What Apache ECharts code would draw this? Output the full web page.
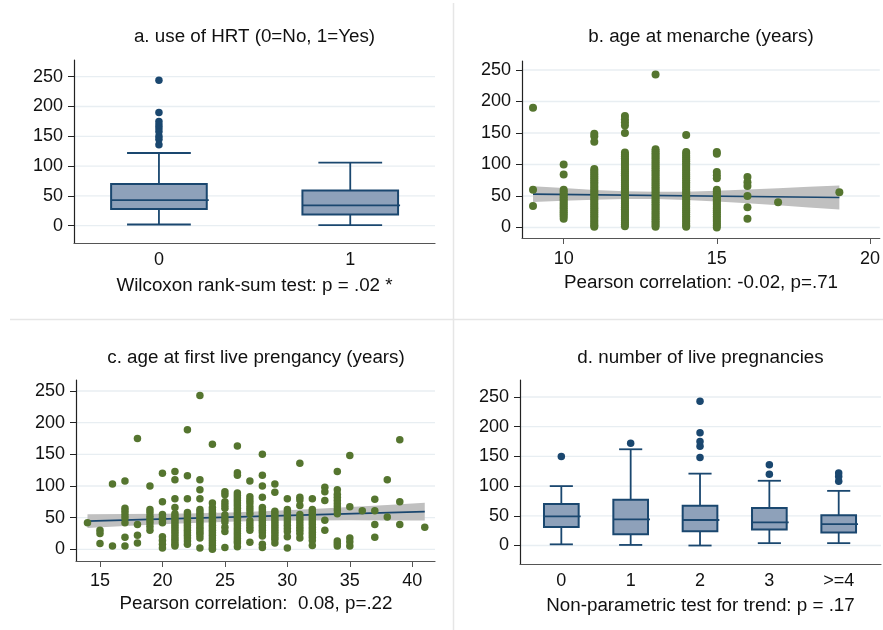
<!DOCTYPE html>
<html><head><meta charset="utf-8">
<script src="https://cdn.jsdelivr.net/npm/echarts@6/dist/echarts.min.js"></script>
<style>html,body{margin:0;padding:0;background:#fff}#c{width:883px;height:630px}</style>
</head><body><div id="c"></div>
<script>
// ---------- DATA ----------
// a. use of HRT
const hrtCats = ['0', '1'];
const hrtBox = [[2, 28, 43, 70, 122], [1, 19, 34, 59, 106]]; // [lowWhisker, Q1, median, Q3, highWhisker]
const hrtOutliers = [[136, 145, 150, 158, 164, 169, 175, 190, 244], []];
// b. age at menarche
const menX = [9, 10, 11, 12, 13, 14, 15, 16, 17, 19];
const menY = [
  [190, 60, 34],
  [100, 84, 60, 57, 54, 51, 48, 45, 42, 39, 36, 33, 30, 27, 24, 21, 18, 14],
  [149, 145, 136, 93, 90, 87, 84, 81, 78, 75, 72, 69, 66, 63, 60, 57, 54, 51, 48, 45, 42, 39, 36, 33, 30, 27, 24, 21, 18, 15, 12, 9, 6, 3, 1],
  [177, 172, 167, 162, 150, 119, 116, 113, 110, 107, 104, 101, 98, 95, 92, 89, 86, 83, 80, 77, 74, 71, 68, 65, 62, 59, 56, 53, 50, 47, 44, 41, 38, 35, 32, 29, 26, 23, 20, 17, 14, 11, 8, 5, 2],
  [243, 124, 121, 118, 115, 112, 109, 106, 103, 100, 97, 94, 91, 88, 85, 82, 79, 76, 73, 70, 67, 64, 61, 58, 55, 52, 49, 46, 43, 40, 37, 34, 31, 28, 25, 22, 19, 16, 13, 10, 7, 4, 1],
  [147, 120, 117, 114, 111, 108, 105, 102, 99, 96, 93, 90, 87, 84, 81, 78, 75, 72, 69, 66, 63, 60, 57, 54, 51, 48, 45, 42, 39, 36, 33, 30, 27, 24, 21, 18, 15, 12, 9, 6, 3, 1],
  [120, 117, 88, 83, 78, 60, 57, 54, 51, 48, 45, 42, 39, 36, 33, 30, 27, 24, 21, 18, 15, 12, 9, 6, 3, 0],
  [80, 72, 66, 50, 32, 14],
  [40],
  [56]
];
const menFitX = [9, 19];
const menFitY = [53, 47.7];
const menBandX = [9, 10, 11, 12, 13, 14, 15, 16, 17, 18, 19];
const menBandLo = [40.5, 42.5, 44, 45.2, 45.1, 43.7, 41.2, 38.3, 35.2, 31.9, 28.7];
const menBandHi = [65.5, 62.5, 59.7, 57.6, 56.7, 56.9, 58.4, 60.3, 62.4, 64.5, 66.7];
// c. age at first live pregnancy
const pregAgeX = [14, 15, 16, 17, 18, 19, 20, 21, 22, 23, 24, 25, 26, 27, 28, 29, 30, 31, 32, 33, 34, 35, 36, 37, 38, 39, 41];
const pregAgeY = [
  [42],
  [30, 25, 9],
  [103, 5],
  [108, 65, 60, 55, 50, 42, 19, 5],
  [175, 39, 22, 10],
  [100, 63, 58, 52, 47, 42, 36, 30],
  [120, 75, 55, 50, 45, 42, 20, 14, 8, 2],
  [123, 110, 80, 66, 56, 52, 48, 44, 40, 36, 32, 28, 24, 20, 16, 12, 8, 5],
  [189, 116, 80, 58, 54, 50, 46, 42, 38, 34, 30, 26, 22, 18, 13, 8],
  [243, 110, 94, 80, 63, 59, 55, 51, 47, 43, 39, 35, 31, 27, 23, 18, 2],
  [166, 73, 66, 62, 58, 54, 50, 46, 42, 38, 34, 30, 26, 22, 18, 14, 10, 6, 2, 0],
  [91, 86, 75, 70, 65, 54, 48, 43, 35, 28, 3],
  [163, 121, 117, 89, 85, 81, 77, 73, 69, 65, 61, 57, 53, 49, 45, 41, 37, 33, 29, 25, 21, 17, 13, 10, 4],
  [108, 83, 78, 73, 67, 62, 56, 45, 40, 35, 30, 11],
  [150, 117, 100, 82, 66, 62, 58, 54, 50, 46, 42, 38, 34, 30, 26, 21, 8, 3],
  [103, 90, 60, 56, 52, 48, 44, 40, 36, 32, 28, 24, 20, 16, 10],
  [80, 63, 58, 53, 48, 43, 38, 33, 28, 20, 2],
  [136, 82, 78, 69, 55, 50, 45, 40, 35, 30, 25, 18],
  [80, 63, 59, 55, 51, 47, 43, 39, 35, 31, 27, 23, 19, 14, 6],
  [98, 91, 77, 46, 30],
  [123, 94, 87, 82, 77, 72, 67, 62, 56, 13, 9, 5],
  [148, 67, 18, 12, 5],
  [61],
  [79, 61, 39, 19],
  [110, 51],
  [173, 75, 39],
  [35]
];
const pregFitX = [14, 41];
const pregFitY = [44.5, 59.5];
const pregBandX = [14, 17, 20, 23, 26, 29, 32, 35, 38, 41];
const pregBandLo = [33.5, 36.7, 39.6, 42, 43.8, 44.9, 45.5, 45.7, 45.6, 45.5];
const pregBandHi = [55.5, 55.7, 56, 57, 58.6, 60.7, 63.5, 66.7, 70, 73.5];
// d. number of live pregnancies
const nPregCats = ['0', '1', '2', '3', '>=4'];
const nPregBox = [[2, 31, 49, 70, 100], [1, 19, 44, 77, 162], [0, 24, 43, 67, 121], [4, 27, 39, 63, 109], [4, 22, 36, 51, 92]];
const nPregOutliers = [[150], [172], [148, 167, 175, 190, 243], [120, 136], [108, 116, 122]];
// axis ticks
const yTicks = [0, 50, 100, 150, 200, 250];
const menTicks = [10, 15, 20];
const pregAgeTicks = [15, 20, 25, 30, 35, 40];

// ---------- STYLE ----------
const FONT = "'Liberation Sans', Arial, sans-serif";
const NAVY = '#1a476f', BOXFILL = '#8ea1ba', GREEN = '#55752f', BAND = '#c0c0c0', GRIDC = '#e8eef2';

const chart = echarts.init(document.getElementById('c'), null, {renderer: 'canvas'});

function boxRender(params, api) {
  const x = api.value(0);
  const mn = api.coord([x, api.value(1)]), q1 = api.coord([x, api.value(2)]),
        md = api.coord([x, api.value(3)]), q3 = api.coord([x, api.value(4)]),
        mx = api.coord([x, api.value(5)]);
  const cx = md[0];
  const bw = api.size([0.5, 0])[0];
  const cw = bw * 2 / 3;
  const ls = {stroke: NAVY, lineWidth: 1.8, fill: null};
  return {type: 'group', children: [
    {type: 'line', shape: {x1: cx, y1: q3[1], x2: cx, y2: mx[1]}, style: ls},
    {type: 'line', shape: {x1: cx - cw / 2, y1: mx[1], x2: cx + cw / 2, y2: mx[1]}, style: ls},
    {type: 'line', shape: {x1: cx, y1: q1[1], x2: cx, y2: mn[1]}, style: ls},
    {type: 'line', shape: {x1: cx - cw / 2, y1: mn[1], x2: cx + cw / 2, y2: mn[1]}, style: ls},
    {type: 'rect', shape: {x: cx - bw / 2, y: q3[1], width: bw, height: q1[1] - q3[1]}, style: {fill: BOXFILL, stroke: NAVY, lineWidth: 2}},
    {type: 'line', shape: {x1: cx - bw / 2, y1: md[1], x2: cx + bw / 2 + 2, y2: md[1]}, style: ls}
  ]};
}
function gridRender(params, api) {
  const cs = params.coordSys;
  const y = api.coord([api.value(0), api.value(1)])[1];
  return {type: 'line', shape: {x1: cs.x, y1: y, x2: cs.x + cs.width, y2: y}, style: {stroke: GRIDC, lineWidth: 1.3}};
}
function bandRenderer(bx, lo, hi) {
  return function (params, api) {
    const pts = [];
    for (let i = 0; i < bx.length; i++) pts.push(api.coord([bx[i], hi[i]]));
    for (let i = bx.length - 1; i >= 0; i--) pts.push(api.coord([bx[i], lo[i]]));
    return {type: 'polygon', shape: {points: pts}, style: {fill: BAND}};
  };
}
function flatten(xs, ys) {
  const out = [];
  xs.forEach((x, i) => ys[i].forEach(v => out.push([x, v])));
  return out;
}

const grids = [
  {left: 74, top: 60, width: 361, height: 183},
  {left: 522, top: 61, width: 358, height: 177},
  {left: 76, top: 380, width: 359, height: 181},
  {left: 520, top: 380, width: 361, height: 184}
];
const xRanges = [[-0.444, 1.443], [8.64, 20.32], [13.08, 41.82], [-0.596, 4.61]];
const yRanges = [[-29, 278], [-16.7, 264.3], [-18.5, 267.4], [-31.1, 278.6]];
const xLabelMargin = [8, 12, 11, 8];
const xTickVals = [[0, 1], menTicks, pregAgeTicks, [0, 1, 2, 3, 4]];
const xFormat = [v => hrtCats[Math.round(v)], v => String(v), v => String(v), v => nPregCats[Math.round(v)]];
const showXTick = [false, true, true, false];

const xAxis = grids.map((g, i) => ({
  type: 'value', gridIndex: i, min: xRanges[i][0], max: xRanges[i][1],
  axisLine: {show: true, onZero: false, lineStyle: {color: '#555', width: 1.2}},
  axisTick: {show: showXTick[i], customValues: xTickVals[i], length: 6, lineStyle: {color: '#555'}},
  axisLabel: {customValues: xTickVals[i], formatter: xFormat[i], margin: xLabelMargin[i], fontFamily: FONT, fontSize: 18, color: '#111'},
  splitLine: {show: false}
}));
const yAxis = grids.map((g, i) => ({
  type: 'value', gridIndex: i, min: yRanges[i][0], max: yRanges[i][1],
  axisLine: {show: true, onZero: false, lineStyle: {color: '#222', width: 1.2}},
  axisTick: {show: true, customValues: yTicks, length: 6, lineStyle: {color: '#222'}},
  axisLabel: {customValues: yTicks, margin: 11, fontFamily: FONT, fontSize: 18, color: '#111'},
  splitLine: {show: false}
}));

const series = [];
// gridlines
grids.forEach((g, i) => {
  series.push({type: 'custom', xAxisIndex: i, yAxisIndex: i, z: 0, silent: true, renderItem: gridRender,
    data: yTicks.map(v => [xRanges[i][0], v])});
});
// a
series.push({type: 'custom', xAxisIndex: 0, yAxisIndex: 0, z: 2, renderItem: boxRender,
  encode: {x: 0, y: [1, 2, 3, 4, 5]}, data: hrtBox.map((b, i) => [i].concat(b))});
series.push({type: 'scatter', xAxisIndex: 0, yAxisIndex: 0, z: 3, symbolSize: 7.5, itemStyle: {color: NAVY, opacity: 1},
  data: flatten(hrtCats.map((c, i) => i), hrtOutliers)});
// b
series.push({type: 'custom', xAxisIndex: 1, yAxisIndex: 1, z: 1, renderItem: bandRenderer(menBandX, menBandLo, menBandHi),
  data: [[menBandX[0], menBandLo[0]]]});
series.push({type: 'line', xAxisIndex: 1, yAxisIndex: 1, z: 2, showSymbol: false, lineStyle: {color: NAVY, width: 1.6},
  data: menFitX.map((x, i) => [x, menFitY[i]])});
series.push({type: 'scatter', xAxisIndex: 1, yAxisIndex: 1, z: 3, symbolSize: 8, itemStyle: {color: GREEN, opacity: 1},
  data: flatten(menX, menY)});
// c
series.push({type: 'custom', xAxisIndex: 2, yAxisIndex: 2, z: 1, renderItem: bandRenderer(pregBandX, pregBandLo, pregBandHi),
  data: [[pregBandX[0], pregBandLo[0]]]});
series.push({type: 'line', xAxisIndex: 2, yAxisIndex: 2, z: 2, showSymbol: false, lineStyle: {color: NAVY, width: 1.6},
  data: pregFitX.map((x, i) => [x, pregFitY[i]])});
series.push({type: 'scatter', xAxisIndex: 2, yAxisIndex: 2, z: 3, symbolSize: 7.5, itemStyle: {color: GREEN, opacity: 1},
  data: flatten(pregAgeX, pregAgeY)});
// d
series.push({type: 'custom', xAxisIndex: 3, yAxisIndex: 3, z: 2, renderItem: boxRender,
  encode: {x: 0, y: [1, 2, 3, 4, 5]}, data: nPregBox.map((b, i) => [i].concat(b))});
series.push({type: 'scatter', xAxisIndex: 3, yAxisIndex: 3, z: 3, symbolSize: 7.5, itemStyle: {color: NAVY, opacity: 1},
  data: flatten(nPregCats.map((c, i) => i), nPregOutliers)});

function txt(s, x, y) {
  return {type: 'text', x: x, y: y, silent: true,
    style: {text: s, fill: '#111', font: '18.8px ' + FONT, textAlign: 'center', textVerticalAlign: 'middle'}};
}
const graphic = [
  {type: 'line', shape: {x1: 453.5, y1: 3, x2: 453.5, y2: 630}, style: {stroke: '#e6e6e6', lineWidth: 1.5}, silent: true},
  {type: 'line', shape: {x1: 10, y1: 319.5, x2: 883, y2: 319.5}, style: {stroke: '#e6e6e6', lineWidth: 1.5}, silent: true},
  txt('a. use of HRT (0=No, 1=Yes)', 254.5, 37),
  txt('b. age at menarche (years)', 701, 37),
  txt('c. age at first live prengancy (years)', 256, 358),
  txt('d. number of live pregnancies', 700.5, 358),
  txt('Wilcoxon rank-sum test: p = .02 *', 254.5, 286),
  txt('Pearson correlation: -0.02, p=.71', 701, 283),
  txt('Pearson correlation:  0.08, p=.22', 256, 604),
  txt('Non-parametric test for trend: p = .17', 700.5, 606)
];

chart.setOption({
  backgroundColor: '#fff',
  animation: false,
  grid: grids,
  xAxis: xAxis,
  yAxis: yAxis,
  series: series,
  graphic: graphic
});
</script></body></html>
